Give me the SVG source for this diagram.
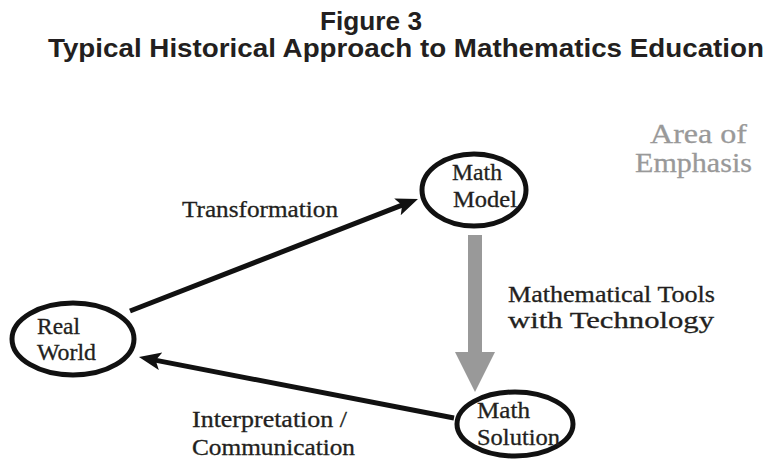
<svg xmlns="http://www.w3.org/2000/svg" width="772" height="464" viewBox="0 0 772 464">
<style>
.title{font-family:"Liberation Sans",Arial,sans-serif;font-weight:bold;font-size:25px;fill:#231f20}
.lbl{font-family:"Liberation Serif","Times New Roman",serif;font-size:23px;fill:#231f20;stroke:#231f20;stroke-width:0.3}
.emph{font-family:"Liberation Serif","Times New Roman",serif;font-size:28px;fill:#999999;stroke:#999999;stroke-width:0.3}
.node{fill:#ffffff;stroke:#111111;stroke-width:5}
.conn{stroke:#111111;stroke-width:5;fill:none}
</style>
<defs>
<marker id="ah" markerUnits="userSpaceOnUse" markerWidth="24" markerHeight="20" refX="7" refY="9" orient="auto" viewBox="0 0 24 20">
<path d="M0,0 L22,9 L0,18 L5,9 z" fill="#111111"/>
</marker>
</defs>
<rect width="772" height="464" fill="#ffffff"/>
<text class="title" x="320" y="30" textLength="102" lengthAdjust="spacingAndGlyphs">Figure 3</text>
<text class="title" x="48" y="57" textLength="716" lengthAdjust="spacingAndGlyphs">Typical Historical Approach to Mathematics Education</text>
<g id="connectors">
<line class="conn" x1="130" y1="311" x2="404" y2="204.4" marker-end="url(#ah)"/>
<line class="conn" x1="454" y1="418" x2="153.7" y2="359.9" marker-end="url(#ah)"/>
<polygon points="468,235 482,235 482,352 495,352 475,392 455,352 468,352" fill="#999999"/>
</g>
<g id="real-world">
<ellipse class="node" cx="73" cy="339" rx="61" ry="36"/>
<text class="lbl" x="37" y="334" textLength="43" lengthAdjust="spacingAndGlyphs">Real</text>
<text class="lbl" x="37" y="360" textLength="59" lengthAdjust="spacingAndGlyphs">World</text>
</g>
<g id="math-model">
<ellipse class="node" cx="474" cy="190" rx="52" ry="36"/>
<text class="lbl" x="452" y="180" textLength="50" lengthAdjust="spacingAndGlyphs">Math</text>
<text class="lbl" x="453" y="207" textLength="64" lengthAdjust="spacingAndGlyphs">Model</text>
</g>
<g id="math-solution">
<ellipse class="node" cx="515" cy="424" rx="58" ry="32"/>
<text class="lbl" x="477" y="418" textLength="53" lengthAdjust="spacingAndGlyphs">Math</text>
<text class="lbl" x="477" y="445" textLength="83" lengthAdjust="spacingAndGlyphs">Solution</text>
</g>
<g id="labels">
<text class="lbl" x="182" y="217" textLength="156" lengthAdjust="spacingAndGlyphs">Transformation</text>
<text class="lbl" x="508" y="302" textLength="207" lengthAdjust="spacingAndGlyphs">Mathematical Tools</text>
<text class="lbl" x="508" y="328" textLength="206" lengthAdjust="spacingAndGlyphs">with Technology</text>
<text class="lbl" x="192" y="427" textLength="155" lengthAdjust="spacingAndGlyphs">Interpretation /</text>
<text class="lbl" x="192" y="455" textLength="163" lengthAdjust="spacingAndGlyphs">Communication</text>
</g>
<g id="area-of-emphasis">
<text class="emph" x="650" y="143" textLength="97" lengthAdjust="spacingAndGlyphs">Area of</text>
<text class="emph" x="635" y="172" textLength="117" lengthAdjust="spacingAndGlyphs">Emphasis</text>
</g>
</svg>
